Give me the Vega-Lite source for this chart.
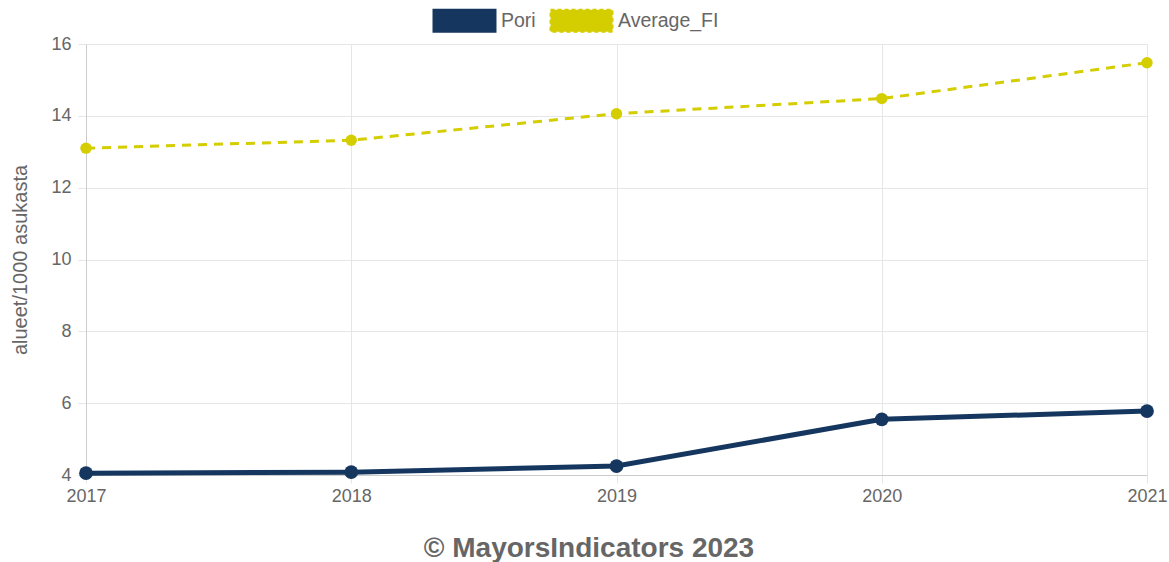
{
  "$schema": "https://vega.github.io/schema/vega-lite/v6.json",
  "width": 1061,
  "height": 431,
  "padding": {"left": 10, "top": 9, "right": 5, "bottom": 2},
  "background": "white",
  "config": {
    "view": {"stroke": null},
    "font": "Liberation Sans",
    "axis": {
      "labelFont": "Liberation Sans",
      "labelFontSize": 18,
      "labelColor": "#666666",
      "titleFont": "Liberation Sans",
      "titleFontSize": 20,
      "titleFontWeight": "normal",
      "titleColor": "#666666",
      "gridColor": "#e6e6e6",
      "domainColor": "#cccccc",
      "tickColor": "#e6e6e6",
      "tickSize": 8
    }
  },
  "title": {
    "text": "© MayorsIndicators 2023",
    "orient": "bottom",
    "anchor": "middle",
    "frame": "bounds",
    "fontSize": 28,
    "fontWeight": "bold",
    "color": "#666666",
    "font": "Liberation Sans",
    "offset": 30
  },
  "data": {
    "values": [
      {"year": 2017, "series": "Pori", "value": 4.05},
      {"year": 2018, "series": "Pori", "value": 4.08},
      {"year": 2019, "series": "Pori", "value": 4.25},
      {"year": 2020, "series": "Pori", "value": 5.55},
      {"year": 2021, "series": "Pori", "value": 5.78},
      {"year": 2017, "series": "Average_FI", "value": 13.1},
      {"year": 2018, "series": "Average_FI", "value": 13.32},
      {"year": 2019, "series": "Average_FI", "value": 14.06},
      {"year": 2020, "series": "Average_FI", "value": 14.48},
      {"year": 2021, "series": "Average_FI", "value": 15.48}
    ]
  },
  "encoding": {
    "x": {
      "field": "year",
      "type": "quantitative",
      "scale": {"domain": [2017, 2021], "nice": false, "zero": false},
      "axis": {"title": null, "format": "d", "values": [2017, 2018, 2019, 2020, 2021], "labelPadding": 4, "labelFlush": false, "grid": true}
    },
    "y": {
      "field": "value",
      "type": "quantitative",
      "scale": {"domain": [4, 16], "nice": false, "zero": false},
      "axis": {"title": "alueet/1000 asukasta", "values": [4, 6, 8, 10, 12, 14, 16], "labelPadding": 7, "titlePadding": 20, "labelFlush": false, "grid": true}
    },
    "color": {
      "field": "series",
      "type": "nominal",
      "scale": {"domain": ["Pori", "Average_FI"], "range": ["#15375f", "#d4cd00"]},
      "legend": {
        "title": null,
        "orient": "none",
        "direction": "horizontal",
        "legendX": 367,
        "legendY": -35,
        "symbolType": "M-3,-1.065L3,-1.065L3,1.065L-3,1.065Z",
        "symbolSize": 427,
        "labelFontSize": 19.5,
        "labelColor": "#666666",
        "labelFont": "Liberation Sans",
        "labelOffset": 25,
        "columnPadding": 10,
        "symbolOpacity": 1,
        "encode": {
          "symbols": {
            "update": {
              "fill": {"scale": "color", "field": "value"},
              "stroke": [{"test": "datum.value === 'Average_FI'", "value": "#c9c200"}, {"value": "#15375f"}],
              "strokeDash": [{"test": "datum.value === 'Average_FI'", "value": [4, 3]}, {"value": []}],
              "strokeWidth": {"value": 2},
              "opacity": {"value": 1}
            }
          }
        }
      }
    }
  },
  "layer": [
    {
      "transform": [{"filter": "datum.series === 'Average_FI'"}],
      "mark": {"type": "line", "strokeWidth": 3, "strokeDash": [9, 7]}
    },
    {
      "transform": [{"filter": "datum.series === 'Average_FI'"}],
      "mark": {"type": "point", "filled": true, "opacity": 1, "size": 130}
    },
    {
      "transform": [{"filter": "datum.series === 'Pori'"}],
      "mark": {"type": "line", "strokeWidth": 5}
    },
    {
      "transform": [{"filter": "datum.series === 'Pori'"}],
      "mark": {"type": "point", "filled": true, "opacity": 1, "size": 190}
    }
  ]
}
